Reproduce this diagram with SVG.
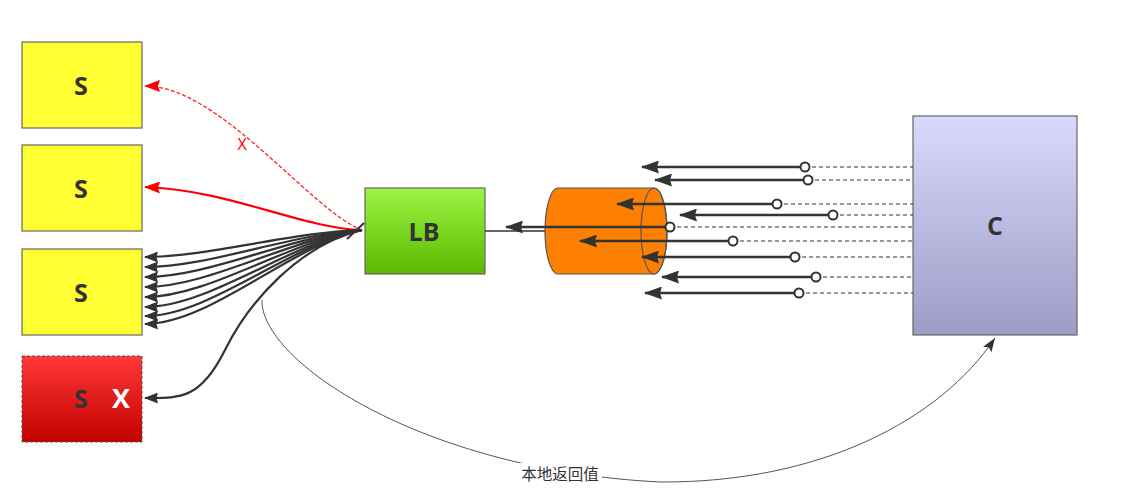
<svg xmlns="http://www.w3.org/2000/svg" width="1126" height="495" viewBox="0 0 1126 495">
<style>
.lbl{font-family:"Open Sans","Liberation Sans",sans-serif;font-weight:bold;font-size:25px;fill:#333;text-anchor:middle;dominant-baseline:central}
.box{stroke:#666;stroke-width:1.2}
.fan{fill:none;stroke:#333;stroke-width:2.2}
.req{fill:none;stroke:#333;stroke-width:2.5}
.dash{fill:none;stroke:#333;stroke-width:1;stroke-dasharray:4,3}
.dot{fill:#fff;stroke:#333;stroke-width:2}
</style>
<defs>
<linearGradient id="gRed" x1="0" y1="0" x2="0" y2="1"><stop offset="0" stop-color="#ff3838"/><stop offset="1" stop-color="#c20000"/></linearGradient>
<linearGradient id="gGreen" x1="0" y1="0" x2="0" y2="1"><stop offset="0" stop-color="#9cf542"/><stop offset="1" stop-color="#5bb800"/></linearGradient>
<linearGradient id="gBlue" x1="0" y1="0" x2="0" y2="1"><stop offset="0" stop-color="#d9d9fd"/><stop offset="1" stop-color="#9c9cc5"/></linearGradient>
<marker id="aB" markerUnits="userSpaceOnUse" markerWidth="18" markerHeight="13" viewBox="0 0 18 13" refX="17" refY="6.5" orient="auto"><path d="M18,6.5 L0,0 L2,6.5 L0,13 Z" fill="#333"/></marker>
<marker id="aF" markerUnits="userSpaceOnUse" markerWidth="14" markerHeight="11" viewBox="0 0 14 11" refX="13" refY="5.5" orient="auto"><path d="M14,5.5 L0,0 L1.5,5.5 L0,11 Z" fill="#333"/></marker>
<marker id="aR" markerUnits="userSpaceOnUse" markerWidth="16" markerHeight="12" viewBox="0 0 16 12" refX="15" refY="6" orient="auto"><path d="M16,6 L0,0 L2,6 L0,12 Z" fill="#f00"/></marker>
<marker id="aG" markerUnits="userSpaceOnUse" markerWidth="14" markerHeight="10" viewBox="0 0 14 10" refX="14" refY="5" orient="auto"><path d="M14,5 L0,0 L3,5 L0,10 Z" fill="#333"/></marker>
</defs>
<rect width="1126" height="495" fill="#fff"/>

<g id="s1"><rect class="box" x="22" y="42" width="120" height="86" fill="#ffff33"/><text class="lbl" x="81" y="85">S</text></g>
<g id="s2"><rect class="box" x="22" y="145" width="120" height="86" fill="#ffff33"/><text class="lbl" x="81" y="188">S</text></g>
<g id="s3"><rect class="box" x="22" y="249" width="120" height="86" fill="#ffff33"/><text class="lbl" x="81" y="292">S</text></g>
<g id="s4"><rect x="22" y="356" width="120" height="86" fill="url(#gRed)" stroke="#555" stroke-width="1" stroke-dasharray="3,2"/><text class="lbl" x="81" y="398">S</text><text class="lbl" x="121" y="397" style="fill:#fff;font-size:27px">X</text></g>
<g id="lb"><rect class="box" x="365" y="188" width="120" height="86" fill="url(#gGreen)"/><text class="lbl" x="424" y="231">LB</text></g>
<g id="queue">
<path d="M558,188 L654,188 A13,43 0 0 1 654,274 L558,274 A13,43 0 0 1 558,188 Z" fill="#ff8000" stroke="#555" stroke-width="1.2"/>
<ellipse cx="654" cy="231" rx="13" ry="43" fill="none" stroke="#555" stroke-width="1.2"/>
</g>
<g id="c"><rect class="box" x="913" y="116" width="164" height="219" fill="url(#gBlue)"/><text class="lbl" x="995" y="225">C</text></g>

<g id="connectors">
<!-- red -->
<path d="M362,230 C310,210 220,86 145,86" fill="none" stroke="#f22" stroke-width="1.3" stroke-dasharray="4,2" marker-end="url(#aR)"/>
<text x="242" y="144" style="font-family:'Open Sans','Liberation Sans',sans-serif;font-size:16px;fill:#f00;text-anchor:middle;dominant-baseline:central">X</text>
<path d="M362,230 C300,228 230,190 145,187" fill="none" stroke="#f00" stroke-width="2.2" marker-end="url(#aR)"/>
<!-- fan -->
<path class="fan" d="M362,230 C290,232 210,257 145,257" marker-end="url(#aF)"/>
<path class="fan" d="M362,230 C290,234 210,267 145,267" marker-end="url(#aF)"/>
<path class="fan" d="M362,230 C290,236 210,277 145,277" marker-end="url(#aF)"/>
<path class="fan" d="M362,230 C290,238 210,287 145,287" marker-end="url(#aF)"/>
<path class="fan" d="M362,230 C290,240 210,297 145,297" marker-end="url(#aF)"/>
<path class="fan" d="M362,230 C290,242 210,307 145,307" marker-end="url(#aF)"/>
<path class="fan" d="M362,230 C290,244 210,316 145,316" marker-end="url(#aF)"/>
<path class="fan" d="M362,230 C290,246 210,324 145,324" marker-end="url(#aF)"/>
<path class="fan" d="M362,230 C300,245 250,300 225,350 C200,400 180,398 145,398" marker-end="url(#aF)"/>
<line x1="347" y1="239" x2="364" y2="223" stroke="#333" stroke-width="2"/>
<!-- return -->
<path d="M262,300 C260,360 420,470 660,482 C820,483 940,420 995,338" fill="none" stroke="#555" stroke-width="1" marker-end="url(#aG)"/>
<rect x="518" y="463" width="84" height="20" fill="#fff"/>
<text x="560" y="473" style="font-family:'Noto Sans CJK SC',sans-serif;font-size:15.5px;fill:#333;text-anchor:middle;dominant-baseline:central">本地返回值</text>
<!-- LB to queue -->
<line x1="485" y1="231" x2="545" y2="231" stroke="#333" stroke-width="1.5"/>
<path class="req" d="M670,227 L506,227" marker-end="url(#aB)"/>
<!-- incoming requests -->
<line class="dash" x1="805" y1="167" x2="913" y2="167"/><path class="req" d="M805,167 L642,167" marker-end="url(#aB)"/><circle class="dot" cx="805" cy="167" r="4.5"/>
<line class="dash" x1="808" y1="180" x2="913" y2="180"/><path class="req" d="M808,180 L655,180" marker-end="url(#aB)"/><circle class="dot" cx="808" cy="180" r="4.5"/>
<line class="dash" x1="777" y1="204" x2="913" y2="204"/><path class="req" d="M777,204 L617,204" marker-end="url(#aB)"/><circle class="dot" cx="777" cy="204" r="4.5"/>
<line class="dash" x1="833" y1="215" x2="913" y2="215"/><path class="req" d="M833,215 L680,215" marker-end="url(#aB)"/><circle class="dot" cx="833" cy="215" r="4.5"/>
<line class="dash" x1="670" y1="227" x2="913" y2="227"/><circle class="dot" cx="670" cy="227" r="4.5"/>
<line class="dash" x1="733" y1="241" x2="913" y2="241"/><path class="req" d="M733,241 L580,241" marker-end="url(#aB)"/><circle class="dot" cx="733" cy="241" r="4.5"/>
<line class="dash" x1="795" y1="257" x2="913" y2="257"/><path class="req" d="M795,257 L642,257" marker-end="url(#aB)"/><circle class="dot" cx="795" cy="257" r="4.5"/>
<line class="dash" x1="816" y1="277" x2="913" y2="277"/><path class="req" d="M816,277 L662,277" marker-end="url(#aB)"/><circle class="dot" cx="816" cy="277" r="4.5"/>
<line class="dash" x1="799" y1="293" x2="913" y2="293"/><path class="req" d="M799,293 L645,293" marker-end="url(#aB)"/><circle class="dot" cx="799" cy="293" r="4.5"/>
</g>
</svg>
